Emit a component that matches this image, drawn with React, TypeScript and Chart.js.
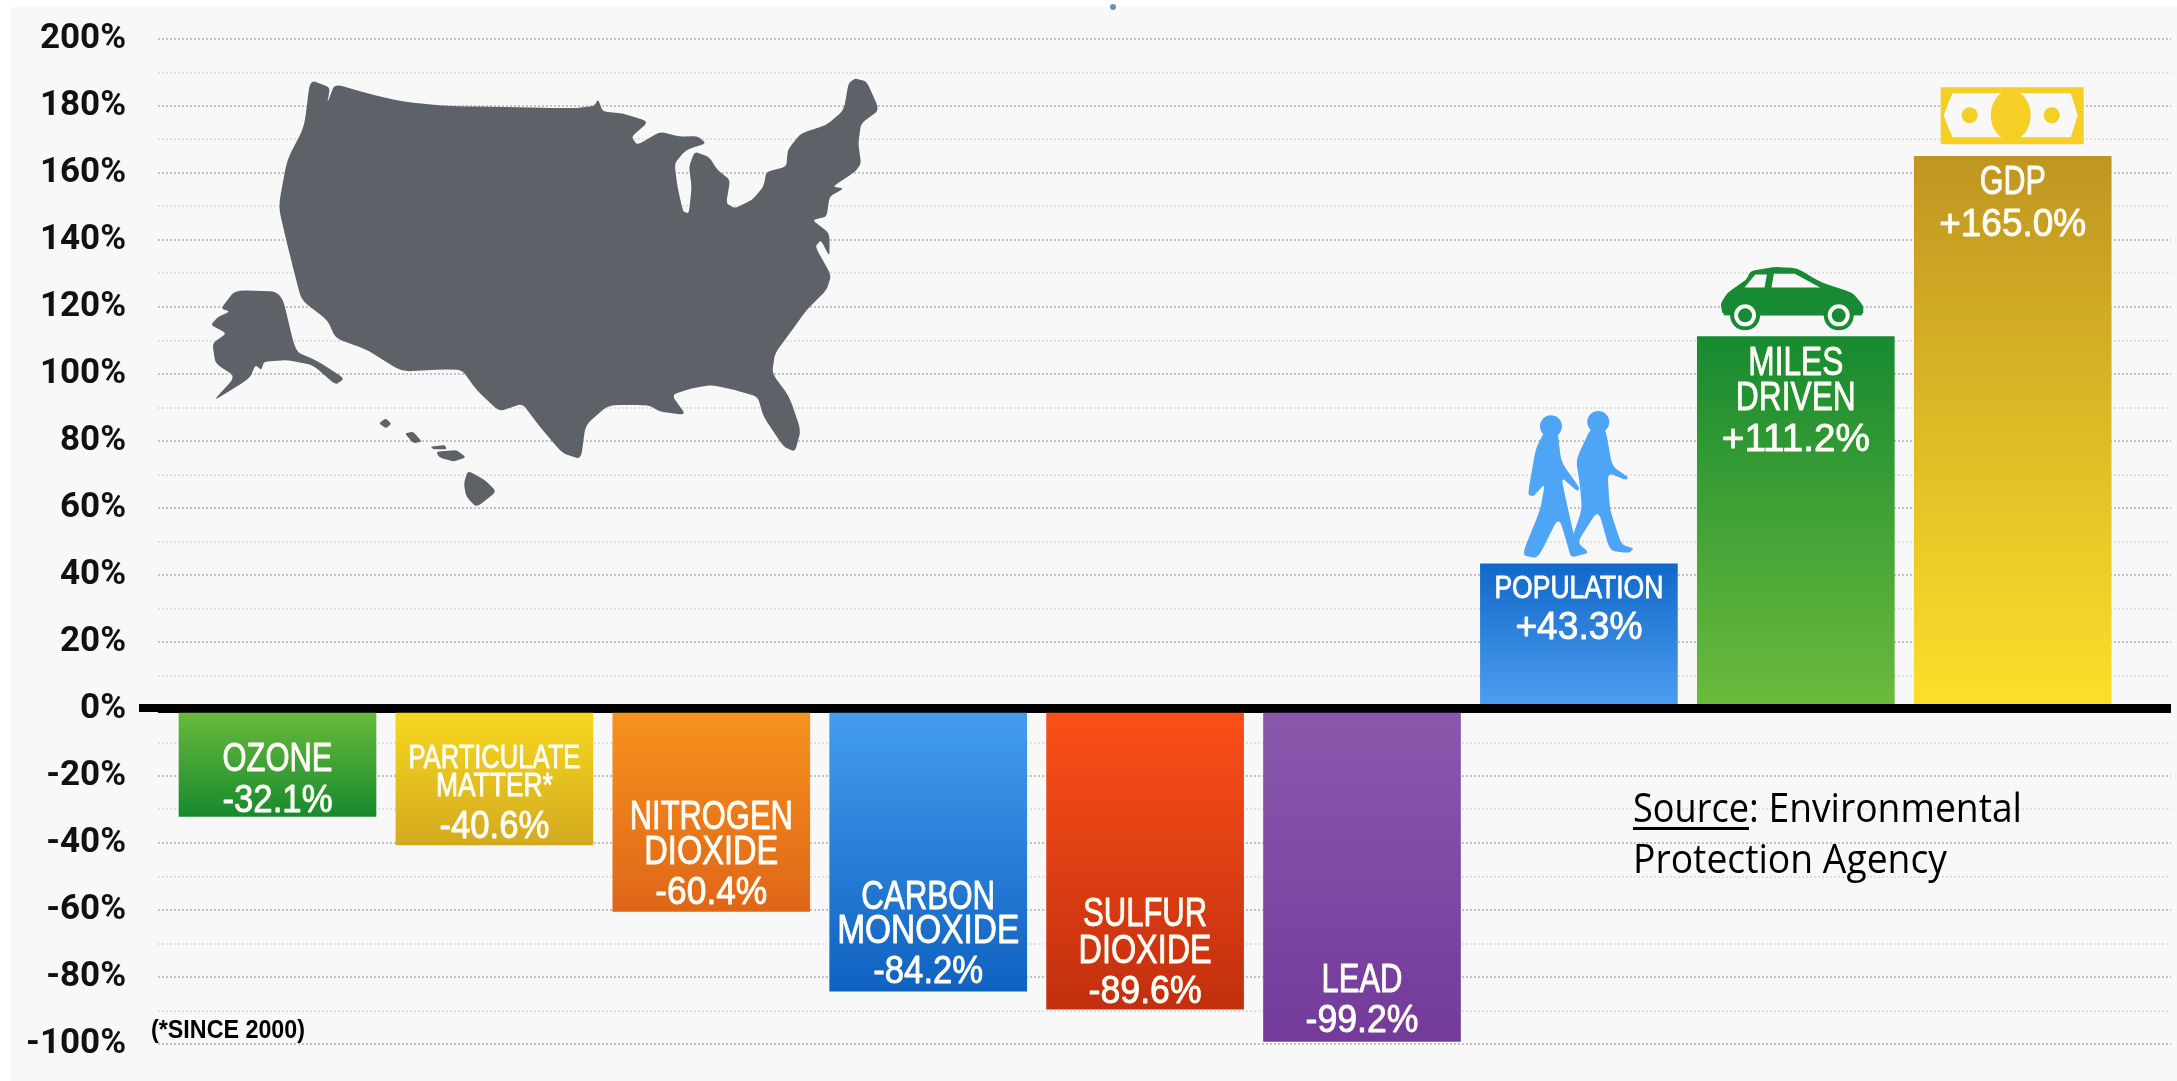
import React, { useEffect, useRef } from "react";
import { Chart, registerables } from "chart.js";

Chart.register(...registerables);

const categories = ["Ozone", "Particulate Matter*", "Nitrogen Dioxide", "Carbon Monoxide", "Sulfur Dioxide", "Lead", "Population", "Miles Driven", "GDP"];
const values = [-32.1, -40.6, -60.4, -84.2, -89.6, -99.2, 43.3, 111.2, 165.0];
const valueLabels = ["-32.1%", "-40.6%", "-60.4%", "-84.2%", "-89.6%", "-99.2%", "+43.3%", "+111.2%", "+165.0%"];
const nameLines = [["OZONE"], ["PARTICULATE", "MATTER*"], ["NITROGEN", "DIOXIDE"], ["CARBON", "MONOXIDE"], ["SULFUR", "DIOXIDE"], ["LEAD"], ["POPULATION"], ["MILES", "DRIVEN"], ["GDP"]];

// gradient: colour at the zero line, colour at the bar tip
const baseColors = ["#6cbb3c", "#f8d91f", "#f7931e", "#459df0", "#fb4f18", "#8a58ad", "#4d9ff0", "#6cbb3c", "#fbe02a"];
const tipColors = ["#178a2e", "#d3aa20", "#df6618", "#0f62c0", "#c22f0e", "#733a9a", "#1268c9", "#178a30", "#bf9622"];

// text layout, offsets in px from the bar tip: [y of each name line..., y of value]
const nameOffsets = [[-46], [-77, -49], [-82, -47], [-82, -48], [-83, -46], [-49], [34], [39, 74], [38]];
const valueOffsets = [-5, -7, -7, -8, -6, -9, 75, 115, 80];
const nameSizes = [40, 33, 40, 40, 40, 40, 32, 40, 40];
const nameWidths = [[110], [172, 117], [163, 134], [134, 182], [124, 133], [81], [169], [95, 120], [66]];
const valueWidths = [110, 110, 112, 110, 113, 113, 127, 148, 147];

const PLOT_TOP = 39;
const PLOT_BOTTOM = 1044;
const PLOT_LEFT = 158;
const PLOT_RIGHT = 2171;
const AXIS_LEFT = 139;
const FIRST_CENTER = 277.5;
const PITCH = 216.9;
const BAR_W = 197;

const SANS = '"Liberation Sans", sans-serif';

// Map outlines, traced in a 1568x1560 drawing space
const usOutline = [[540,240],[575,262],[570,310],[583,252],[640,280],[700,305],[780,318],[1000,325],[1035,318],[1042,298],[1050,335],[1085,340],[1130,365],[1100,410],[1110,435],[1150,395],[1185,410],[1215,408],[1230,430],[1195,450],[1175,490],[1180,560],[1190,635],[1200,640],[1205,560],[1200,500],[1210,455],[1235,470],[1250,510],[1272,540],[1265,610],[1280,625],[1310,600],[1330,560],[1335,515],[1370,500],[1372,450],[1395,400],[1440,375],[1470,330],[1478,250],[1490,235],[1510,245],[1532,330],[1500,370],[1495,430],[1500,490],[1490,515],[1450,560],[1470,565],[1445,590],[1440,650],[1415,660],[1445,700],[1445,770],[1430,720],[1420,740],[1448,825],[1440,870],[1405,930],[1380,990],[1350,1060],[1345,1120],[1375,1190],[1395,1290],[1385,1355],[1365,1340],[1330,1250],[1320,1190],[1280,1170],[1240,1155],[1205,1165],[1170,1185],[1195,1245],[1150,1235],[1130,1215],[1060,1215],[1020,1275],[1012,1378],[980,1360],[940,1280],[910,1210],[870,1235],[830,1170],[805,1110],[770,1108],[700,1115],[640,1050],[585,1015],[570,960],[525,900],[510,800],[500,730],[485,620],[500,480],[530,380]];
const alaskaOutline = [[385,925],[410,870],[490,875],[515,1055],[550,1080],[600,1135],[585,1155],[545,1095],[500,1080],[460,1085],[455,1110],[445,1095],[435,1135],[370,1205],[410,1130],[375,1090],[370,1030],[395,1000],[367,975],[380,950],[400,935]];
const hawaiiOutlines = [[[660,1270],[672,1255],[682,1272],[672,1285]],[[705,1300],[720,1295],[735,1325],[720,1330]],[[750,1340],[775,1335],[778,1348],[755,1348]],[[760,1355],[795,1350],[812,1372],[790,1385],[765,1372]],[[815,1412],[845,1440],[865,1475],[830,1522],[812,1490],[808,1450]]];

const personA = [[205,878],[232,878],[240,950],[280,1010],[275,1018],[240,985],[255,1060],[272,1140],[298,1155],[262,1172],[235,1075],[190,1172],[155,1165],[195,1060],[205,1000],[180,1030],[168,1025],[185,920]];
const personB = [[305,870],[335,870],[350,960],[385,985],[380,992],[340,975],[345,1060],[370,1140],[397,1150],[385,1160],[345,1155],[320,1060],[275,1135],[300,1160],[262,1170],[255,1150],[285,1060],[280,1000],[272,945]];
const carBody = [[590,612],[585,585],[600,560],[640,530],[650,510],[700,500],[750,503],[800,535],[870,560],[893,590],[893,612]];
const carWindowA = [[637,548],[660,518],[685,518],[680,548]];
const carWindowB = [[695,548],[700,516],[745,516],[800,548]];
const billInner = [[-60,-63],[58,-63],[61,-54],[65,-41],[61,-28],[58,-19],[-60,-19],[-64,-28],[-69,-41],[-64,-54]];

function poly(ctx: any, pts: number[][], fx: (x: number) => number, fy: (y: number) => number, color: string) {
  ctx.fillStyle = color;
  ctx.beginPath();
  pts.forEach((p, i) => (i ? ctx.lineTo(fx(p[0]), fy(p[1])) : ctx.moveTo(fx(p[0]), fy(p[1]))));
  ctx.closePath();
  ctx.fill();
}

// closed outline with only its corners rounded off
function rounded(ctx: any, pts: number[][], fx: (x: number) => number, fy: (y: number) => number, color: string) {
  const n = pts.length;
  const q = pts.map((p) => [fx(p[0]), fy(p[1])]);
  const along = (a: number[], b: number[], t: number) => [a[0] + (b[0] - a[0]) * t, a[1] + (b[1] - a[1]) * t];
  ctx.fillStyle = color;
  ctx.beginPath();
  q.forEach((p, i) => {
    const prev = q[(i + n - 1) % n];
    const next = q[(i + 1) % n];
    const a = along(p, prev, 0.25);
    const b = along(p, next, 0.25);
    if (i) ctx.lineTo(a[0], a[1]);
    else ctx.moveTo(a[0], a[1]);
    ctx.quadraticCurveTo(p[0], p[1], b[0], b[1]);
  });
  ctx.closePath();
  ctx.fill();
}

function barCenter(chart: any, i: number) {
  return chart.getDatasetMeta(0).data[i].x;
}
function barTip(chart: any, i: number) {
  return chart.getDatasetMeta(0).data[i].y;
}

const backdrop = {
  id: "backdrop",
  beforeDraw(chart: any) {
    const c = chart.ctx;
    c.save();
    c.fillStyle = "#ffffff";
    c.fillRect(0, 0, chart.width, chart.height);
    c.fillStyle = "#f8f8f8";
    c.fillRect(10, 7, chart.width - 10, chart.height - 7);
    c.fillStyle = "#6f8fb5";
    c.beginPath();
    c.ellipse(1113, 7, 3, 3, 0, 0, Math.PI * 2);
    c.fill();
    c.restore();
  },
};

const overlay = {
  id: "overlay",
  afterDatasetsDraw(chart: any) {
    const c = chart.ctx;
    const y0 = chart.scales.y.getPixelForValue(0);
    c.save();

    // zero line on top of the bars
    c.fillStyle = "#000000";
    c.fillRect(AXIS_LEFT, y0 - 5, PLOT_RIGHT - AXIS_LEFT, 8);

    // bar labels
    c.textAlign = "center";
    c.textBaseline = "alphabetic";
    c.fillStyle = "#fdfdf6";
    c.strokeStyle = "#fdfdf6";
    c.lineWidth = 0.9;
    c.lineJoin = "round";
    values.forEach((_, i) => {
      const cx = barCenter(chart, i);
      const tip = barTip(chart, i);
      nameLines[i].forEach((line, k) => {
        c.font = `${nameSizes[i]}px ${SANS}`;
        c.fillText(line, cx, tip + nameOffsets[i][k], nameWidths[i][k]);
        c.strokeText(line, cx, tip + nameOffsets[i][k], nameWidths[i][k]);
      });
      c.font = `39px ${SANS}`;
      c.fillText(valueLabels[i], cx, tip + valueOffsets[i], valueWidths[i]);
      c.strokeText(valueLabels[i], cx, tip + valueOffsets[i], valueWidths[i]);
    });

    // map
    const mx = (x: number) => x / 1.742;
    const my = (y: number) => y / 3;
    rounded(c, usOutline, mx, my, "#5d6269");
    rounded(c, alaskaOutline, mx, my, "#5d6269");
    hawaiiOutlines.forEach((h) => rounded(c, h, mx, my, "#5d6269"));

    // icons, placed from their bars
    const popDx = barCenter(chart, 6) - 1579;
    const popDy = barTip(chart, 6) - 564;
    const ix = (x: number) => 1450 + x / 2.157 + popDx;
    const iy = (y: number) => 50 + y / 2.306 + popDy;
    const blue = "#4ea5f5";
    rounded(c, personA, ix, iy, blue);
    rounded(c, personB, ix, iy, blue);
    c.fillStyle = blue;
    [[218, 868], [320, 858]].forEach(([hx, hy]) => {
      c.beginPath();
      c.arc(ix(hx), iy(hy), 11, 0, Math.PI * 2);
      c.fill();
    });

    const carDx = barCenter(chart, 7) - 1796.5;
    const carDy = barTip(chart, 7) - 336.5;
    const kx = (x: number) => 1450 + x / 2.157 + carDx;
    const ky = (y: number) => 50 + y / 2.306 + carDy;
    const green = "#178a33";
    rounded(c, carBody, kx, ky, green);
    c.fillRect(kx(592), ky(590), kx(890) - kx(592), ky(612) - ky(590));
    poly(c, carWindowA, kx, ky, "#f8f8f8");
    poly(c, carWindowB, kx, ky, "#f8f8f8");
    [638, 840].forEach((wx) => {
      [[15, green], [11, "#f8f8f8"], [7, green]].forEach(([r, col]: any) => {
        c.fillStyle = col;
        c.beginPath();
        c.arc(kx(wx), ky(612), r, 0, Math.PI * 2);
        c.fill();
      });
    });

    const gx = barCenter(chart, 8);
    const gTop = barTip(chart, 8);
    const yellow = "#f5cf25";
    c.fillStyle = yellow;
    c.fillRect(gx - 72, gTop - 69, 143, 57);
    poly(c, billInner, (x) => gx + x, (y) => gTop + y, "#f8f8f8");
    c.fillStyle = yellow;
    c.beginPath();
    c.ellipse(gx - 2, gTop - 41, 20, 25, 0, 0, Math.PI * 2);
    c.fill();
    [-43, 39].forEach((dx) => {
      c.beginPath();
      c.arc(gx + dx, gTop - 41, 8, 0, Math.PI * 2);
      c.fill();
    });

    // notes
    c.textAlign = "left";
    c.fillStyle = "#000000";
    c.font = `bold 26px ${SANS}`;
    c.fillText("(*SINCE 2000)", 151, 1038, 154);
    c.font = '40px "Open Sans", sans-serif';
    c.fillText("Source", 1633, 822, 116);
    c.fillText(": Environmental", 1749, 822, 273);
    c.fillText("Protection Agency", 1633, 873, 314);
    c.fillRect(1633, 827, 116, 3);
    c.restore();
  },
};

export default function App() {
  const ref = useRef<HTMLCanvasElement | null>(null);
  useEffect(() => {
    document.body.style.margin = "0";
    const chart = new Chart(ref.current as HTMLCanvasElement, {
      type: "bar",
      data: {
        labels: categories,
        datasets: [
          {
            label: "Change",
            data: values.map((v, i) => ({ x: i, y: v })),
            barThickness: BAR_W,
            borderWidth: 0,
            backgroundColor: (ctx: any) => {
              const i = ctx.dataIndex;
              if (i === undefined) return baseColors[0];
              const sc = ctx.chart.scales?.y;
              const a = sc?.getPixelForValue(0);
              const b = sc?.getPixelForValue(values[i]);
              if (!Number.isFinite(a) || !Number.isFinite(b)) return baseColors[i];
              const g = ctx.chart.ctx.createLinearGradient(0, a, 0, b);
              g.addColorStop(0, baseColors[i]);
              g.addColorStop(1, tipColors[i]);
              return g;
            },
          },
        ],
      },
      options: {
        responsive: false,
        animation: false,
        layout: { padding: { top: PLOT_TOP, bottom: 1081 - PLOT_BOTTOM, right: 2177 - PLOT_RIGHT, left: 0 } },
        plugins: { legend: { display: false }, title: { display: false }, tooltip: { enabled: false } },
        scales: {
          x: {
            type: "linear",
            offset: false,
            display: false,
            min: (PLOT_LEFT - FIRST_CENTER) / PITCH,
            max: (PLOT_RIGHT - FIRST_CENTER) / PITCH,
          },
          y: {
            type: "linear",
            min: -100,
            max: 200,
            afterFit: (s: any) => {
              s.width = PLOT_LEFT;
            },
            ticks: {
              stepSize: 10,
              autoSkip: false,
              padding: 13,
              color: "#111111",
              font: { family: 'Roboto, "Liberation Sans", sans-serif', size: 35, weight: "bold" },
              callback: (v: any) => (v % 20 === 0 ? `${v}%` : ""),
            },
            border: {
              display: false,
              dash: (ctx: any) => (ctx.tick?.value === 0 ? [] : [2, 2]),
            },
            grid: {
              drawOnChartArea: true,
              color: (ctx: any) => {
                const v = ctx.tick?.value;
                if (v === 0) return "#000000";
                return v % 20 === 0 ? "#c2c2c2" : "#e0e0e0";
              },
              lineWidth: (ctx: any) => (ctx.tick?.value === 0 ? 8 : 2),
              tickLength: 19,
              tickColor: "rgba(0,0,0,0)",
            },
          },
        },
      },
      plugins: [backdrop, overlay],
    } as any);
    return () => chart.destroy();
  }, []);
  return <canvas ref={ref} width={2177} height={1081} style={{ display: "block" }} />;
}
